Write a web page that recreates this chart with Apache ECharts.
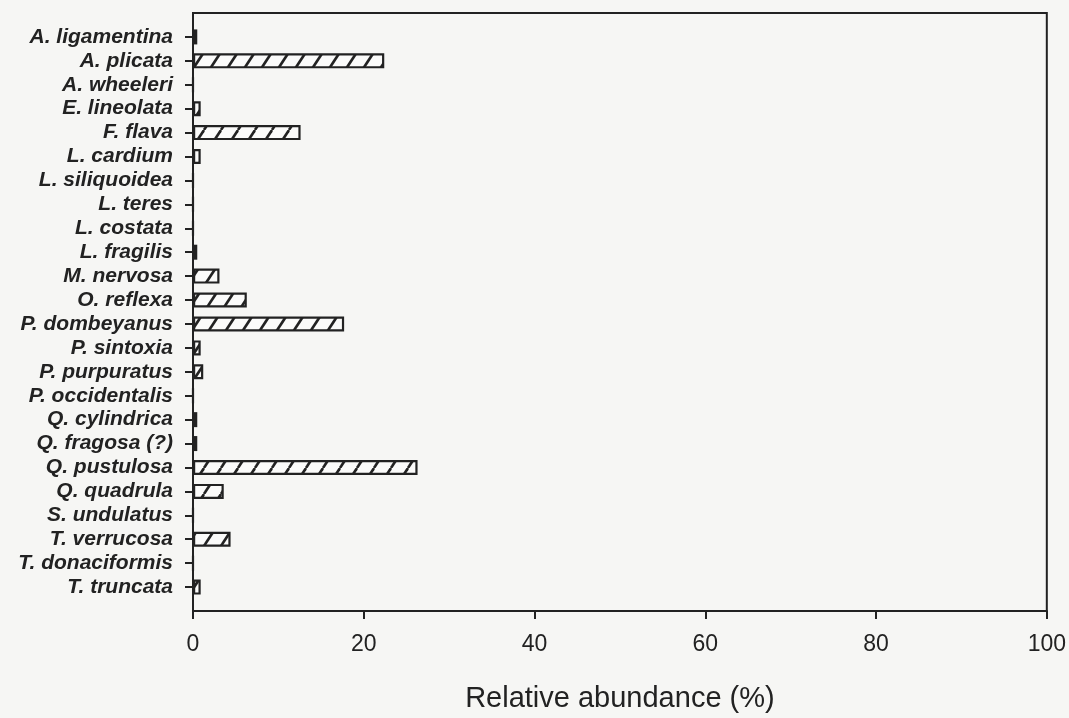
<!DOCTYPE html>
<html>
<head>
<meta charset="utf-8">
<script src="https://cdn.jsdelivr.net/npm/echarts@6/dist/echarts.min.js"></script>
<style>
html,body{margin:0;padding:0;background:#f6f6f4;}
#chart{width:1069px;height:718px;}
</style>
</head>
<body>
<div id="chart"></div>
<script>
const species = ["A. ligamentina","A. plicata","A. wheeleri","E. lineolata","F. flava","L. cardium","L. siliquoidea","L. teres","L. costata","L. fragilis","M. nervosa","O. reflexa","P. dombeyanus","P. sintoxia","P. purpuratus","P. occidentalis","Q. cylindrica","Q. fragosa (?)","Q. pustulosa","Q. quadrula","S. undulatus","T. verrucosa","T. donaciformis","T. truncata"];
const abundance = [0.5,22.4,0,0.9,12.6,0.9,0,0,0,0.5,3.1,6.3,17.7,0.9,1.2,0,0.5,0.5,26.3,3.6,0,4.4,0,0.9];
const xTicks = [0,20,40,60,80,100];
const xTitle = "Relative abundance (%)";

// padded category list (one empty slot above and below)
const cats = [""].concat(species, [""]);
const vals = [null].concat(abundance, [null]);

// hatch tile
const tile = document.createElement('canvas');
tile.width = 17; tile.height = 26;
const g = tile.getContext('2d');
g.fillStyle = '#fbfbfa';
g.fillRect(0,0,17,26);
g.strokeStyle = '#222';
g.lineWidth = 2.6;
[-17,0,17].forEach(o => { g.beginPath(); g.moveTo(o,26); g.lineTo(o+17,0); g.stroke(); });

const chart = echarts.init(document.getElementById('chart'), null, {renderer:'canvas'});
chart.setOption({
  backgroundColor:'#f6f6f4',
  animation:false,
  grid:{left:193, right:21, top:13, bottom:107, show:true, borderColor:'#222', borderWidth:2, backgroundColor:'transparent'},
  xAxis:{
    type:'value', min:xTicks[0], max:xTicks[xTicks.length-1], interval:20,
    name:xTitle, nameLocation:'middle', nameGap:73,
    nameTextStyle:{fontFamily:'Liberation Sans', fontSize:29, color:'#222'},
    axisLine:{show:true, lineStyle:{color:'#222', width:2}},
    axisTick:{show:true, inside:false, length:8, lineStyle:{color:'#222', width:2}},
    axisLabel:{fontFamily:'Liberation Sans', fontSize:23, color:'#222', margin:22},
    splitLine:{show:false}
  },
  yAxis:{
    type:'category', data:cats, inverse:true, boundaryGap:false,
    axisLine:{show:true, lineStyle:{color:'#222', width:2}},
    axisTick:{show:true, inside:false, length:8, interval:(i)=> i>0 && i<cats.length-1, lineStyle:{color:'#222', width:2}},
    axisLabel:{interval:0, fontFamily:'Liberation Sans', fontStyle:'italic', fontWeight:'bold', fontSize:21, color:'#222', margin:20},
    splitLine:{show:false}
  },
  series:[{
    type:'bar', data:vals, barWidth:15,
    itemStyle:{color:{image:tile, repeat:'repeat'}, borderColor:'#222', borderWidth:2.2}
  }]
});
</script>
</body>
</html>
